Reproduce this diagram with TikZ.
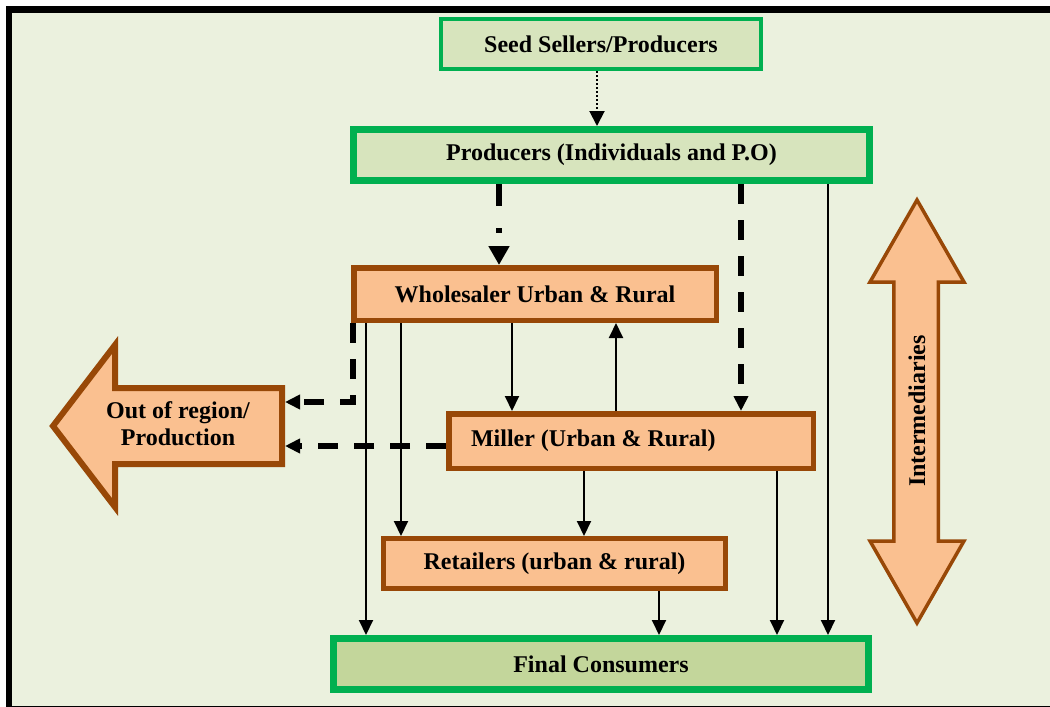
\documentclass[tikz,border=0pt]{standalone}
\usepackage{fontspec}
\setmainfont{Liberation Serif}
\usetikzlibrary{arrows.meta}
\definecolor{bg}{HTML}{EBF1DE}
\definecolor{grn}{HTML}{00B050}
\definecolor{lfill}{HTML}{D7E4BD}
\definecolor{dfill}{HTML}{C3D69B}
\definecolor{brn}{HTML}{984807}
\definecolor{ofill}{HTML}{FAC090}
\begin{document}
\begin{tikzpicture}[x=1pt,y=-1pt,
  every node/.style={font=\fontsize{24}{27}\selectfont\bfseries, inner sep=0pt},
  gbox/.style={draw=grn, fill=lfill, rectangle},
  obox/.style={draw=brn, fill=ofill, rectangle, line width=5.5pt},
  tipa/.style={-{Triangle[length=15pt,width=14pt]}},
  conn/.style={line width=2pt, tipa},
  dsh/.style={line width=5.5pt, dash pattern=on 20pt off 16pt, tipa},
  dshdot/.style={line width=6pt, dash pattern=on 22pt off 22pt on 5pt off 14pt, -{Triangle[length=19pt,width=20pt]}},
  dotl/.style={line width=2pt, dash pattern=on 2pt off 2pt, -{Triangle[length=15pt,width=15pt]}},
  bigarrow/.style={draw=brn, fill=ofill, line join=miter},
]
\useasboundingbox (0,0) rectangle (1050,707);
\fill[white] (0,0) rectangle (1050,707);
\fill[bg] (6,6) rectangle (1050,707);
\draw[line width=6.5pt] (6,9.25) -- (1050,9.25);
\draw[line width=6pt] (9,6) -- (9,707);
\draw[line width=1.5pt] (6,706.25) -- (1050,706.25);

% boxes
\node[gbox, line width=4pt, minimum width=320pt, minimum height=50pt] (seed) at (601,44) {Seed Sellers/Producers};
\node[gbox, line width=7pt, minimum width=516pt, minimum height=51pt] (prod) at (611.5,155) {Producers (Individuals and P.O)};
\node[obox, minimum width=362.5pt, minimum height=52.5pt] (whole) at (535,294) {Wholesaler Urban \& Rural};
\node[obox, minimum width=364.5pt, minimum height=54.5pt, inner xsep=22.25pt, text width=320pt, align=flush left] (miller) at (631,441) {Miller (Urban \& Rural)};
\node[obox, line width=5pt, minimum width=342pt, minimum height=50pt] (ret) at (554.5,563.5) {Retailers (urban \& rural)};
\node[gbox, fill=dfill, line width=7pt, minimum width=535pt, minimum height=51pt] (final) at (601,664) {Final Consumers};

% out of region arrow
\draw[bigarrow, line width=6pt] (53,426) -- (115,345) -- (115,388) -- (282,388) -- (282,464) -- (115,464) -- (115,507) -- cycle;
\node[align=center] (outtxt) at (178,424) {Out of region/\\Production};
\coordinate (outR) at (285,426);

% intermediaries arrow
\draw[bigarrow, line width=3.5pt] (917,200) -- (870,282) -- (893.75,282) -- (893.75,541) -- (870,541) -- (917,623) -- (964,541) -- (938.25,541) -- (938.25,282) -- (964,282) -- cycle;
\node[rotate=90] (inter) at (917,411) {Intermediaries};

% connectors
\draw[dotl] (seed.south -| 597,0) -- (prod.north -| 597,0);
\draw[dshdot] (prod.south -| 499,0) -- (whole.north -| 499,0);
\draw[dsh] (prod.south -| 741,0) -- (miller.north -| 741,0);
\draw[conn] (prod.south -| 828,0) -- (final.north -| 828,0);
\draw[dsh] (whole.south -| 353,0) |- (outR |- 0,402);
\draw[conn] (whole.south -| 366,0) -- (final.north -| 366,0);
\draw[conn] (whole.south -| 401,0) -- (ret.north -| 401,0);
\draw[conn] (whole.south -| 512,0) -- (miller.north -| 512,0);
\draw[conn] (miller.north -| 616,0) -- (whole.south -| 616,0);
\draw[dsh] (miller.west |- 0,446) -- (outR |- 0,446);
\draw[conn] (miller.south -| 584,0) -- (ret.north -| 584,0);
\draw[conn] (miller.south -| 777,0) -- (final.north -| 777,0);
\draw[conn] (ret.south -| 659,0) -- (final.north -| 659,0);
\end{tikzpicture}
\end{document}
